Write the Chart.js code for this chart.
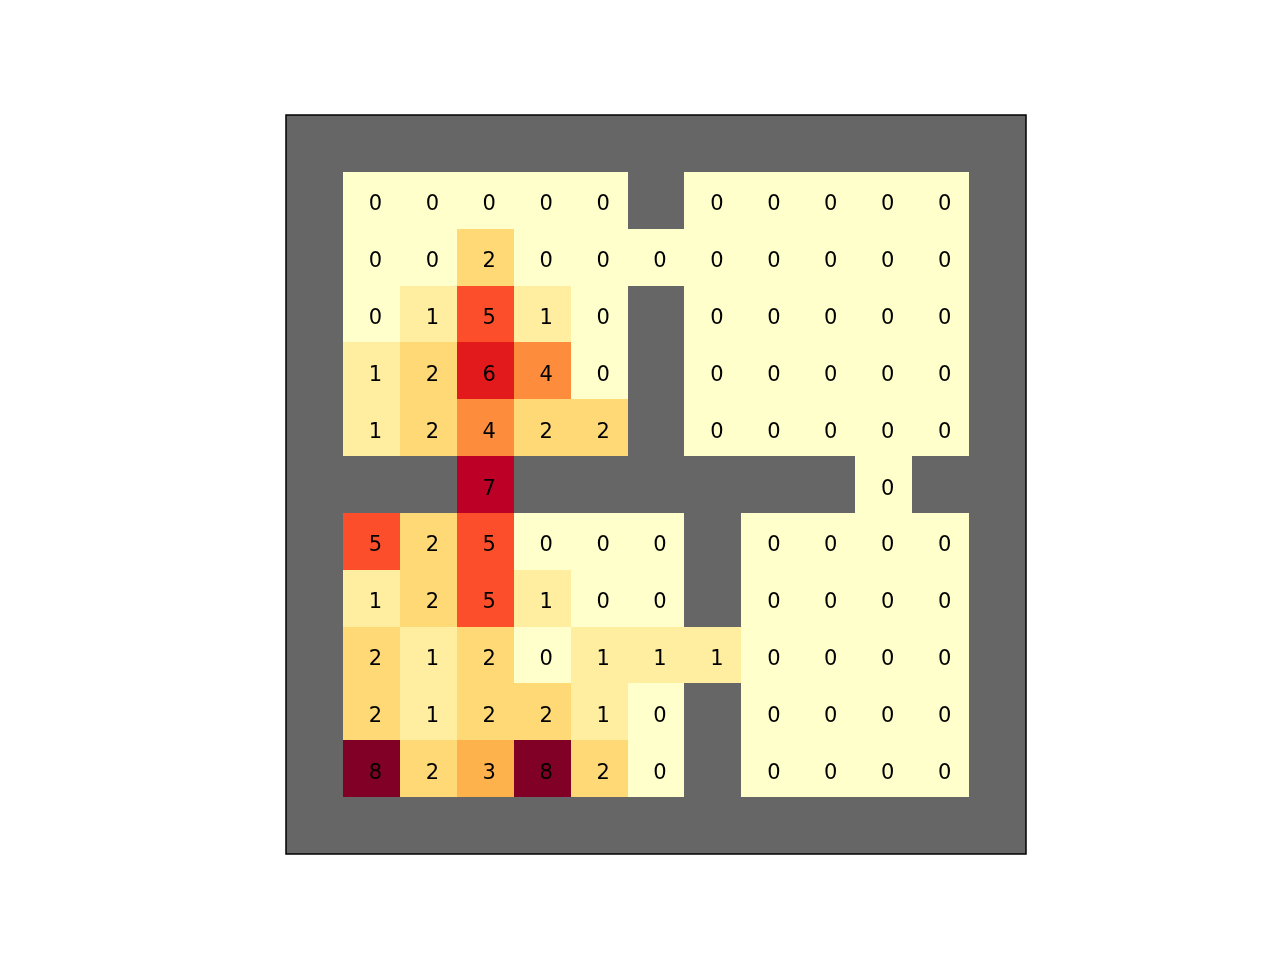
<!DOCTYPE html>
<html>
<head>
<meta charset="utf-8">
<script src="https://cdn.jsdelivr.net/npm/chart.js@4/dist/chart.umd.min.js"></script>
<style>
html,body{margin:0;padding:0;background:#fff;}
#wrap{width:1280px;height:960px;}
</style>
</head>
<body>
<div id="wrap"><canvas id="c" width="1280" height="960"></canvas></div>
<script>
// Grid values (null = wall), rows top to bottom, columns left to right
const row0  = [null,null,null,null,null,null,null,null,null,null,null,null,null];
const row1  = [null,0,0,0,0,0,null,0,0,0,0,0,null];
const row2  = [null,0,0,2,0,0,0,0,0,0,0,0,null];
const row3  = [null,0,1,5,1,0,null,0,0,0,0,0,null];
const row4  = [null,1,2,6,4,0,null,0,0,0,0,0,null];
const row5  = [null,1,2,4,2,2,null,0,0,0,0,0,null];
const row6  = [null,null,null,7,null,null,null,null,null,null,0,null,null];
const row7  = [null,5,2,5,0,0,0,null,0,0,0,0,null];
const row8  = [null,1,2,5,1,0,0,null,0,0,0,0,null];
const row9  = [null,2,1,2,0,1,1,1,0,0,0,0,null];
const row10 = [null,2,1,2,2,1,0,null,0,0,0,0,null];
const row11 = [null,8,2,3,8,2,0,null,0,0,0,0,null];
const row12 = [null,null,null,null,null,null,null,null,null,null,null,null,null];
const grid = [row0,row1,row2,row3,row4,row5,row6,row7,row8,row9,row10,row11,row12];

// YlOrRd colormap stops (value 0..8)
const palette = ['#ffffcc','#ffeda0','#fed976','#feb24c','#fd8d3c','#fc4e2a','#e31a1c','#bd0026','#800026'];
const wallColor = '#666666';

const points = [];
grid.forEach((r, i) => r.forEach((v, j) => points.push({x: j + 0.5, y: i + 0.5, v: v})));

const heatPlugin = {
  id: 'heat',
  beforeDatasetsDraw(chart) {
    const ctx = chart.ctx;
    const xs = chart.scales.x, ys = chart.scales.y;
    const pts = chart.data.datasets[0].data;
    ctx.save();
    pts.forEach(p => {
      const x0 = Math.round(xs.getPixelForValue(p.x - 0.5));
      const x1 = Math.round(xs.getPixelForValue(p.x + 0.5));
      const y0 = Math.round(ys.getPixelForValue(p.y - 0.5));
      const y1 = Math.round(ys.getPixelForValue(p.y + 0.5));
      ctx.fillStyle = p.v === null ? wallColor : palette[p.v];
      ctx.fillRect(Math.min(x0,x1), Math.min(y0,y1), Math.abs(x1-x0), Math.abs(y1-y0));
    });
    ctx.fillStyle = '#000';
    ctx.font = '21px "DejaVu Sans", sans-serif';
    ctx.textAlign = 'center';
    ctx.textBaseline = 'alphabetic';
    pts.forEach(p => {
      if (p.v === null) return;
      ctx.fillText(String(p.v), xs.getPixelForValue(p.x) + 4, ys.getPixelForValue(p.y) + 10);
    });
    const a = chart.chartArea;
    ctx.strokeStyle = '#000';
    ctx.lineWidth = 1.5;
    ctx.strokeRect(a.left, a.top, a.right - a.left, a.bottom - a.top);
    ctx.restore();
  }
};

new Chart(document.getElementById('c'), {
  type: 'scatter',
  data: { datasets: [{ data: points, pointRadius: 0, pointHoverRadius: 0 }] },
  options: {
    responsive: false,
    animation: false,
    events: [],
    layout: { padding: { left: 286, right: 254, top: 115, bottom: 106 } },
    plugins: { legend: { display: false }, tooltip: { enabled: false } },
    scales: {
      x: { type: 'linear', min: 0, max: 13, display: false },
      y: { type: 'linear', min: 0, max: 13, reverse: true, display: false }
    }
  },
  plugins: [heatPlugin]
});
</script>
</body>
</html>
